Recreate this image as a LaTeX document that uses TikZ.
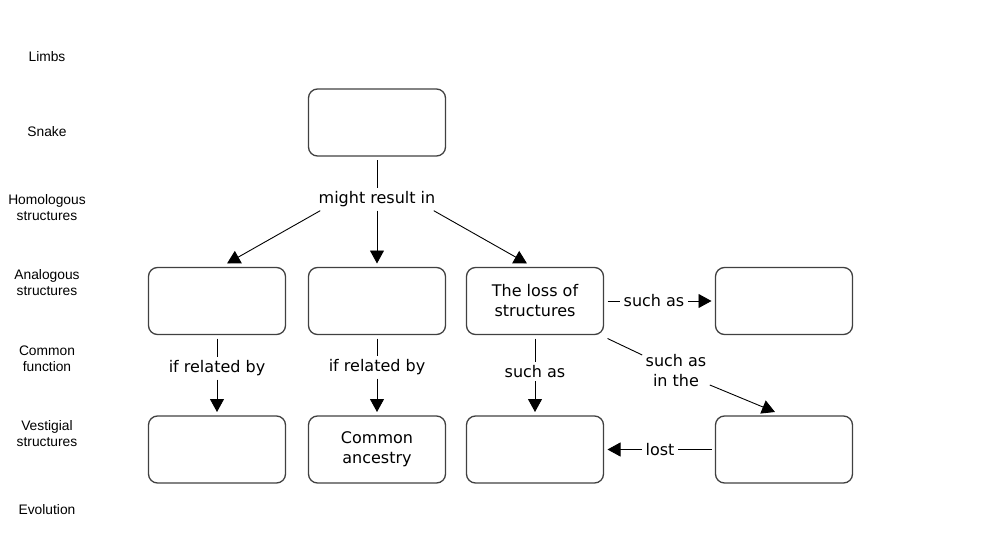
\documentclass[tikz,border=0pt]{standalone}
\usepackage{fontspec}
\setmainfont{DejaVu Sans}
\newfontfamily\sidefont{Liberation Sans}
\usetikzlibrary{arrows.meta}

\begin{document}
\begin{tikzpicture}[x=1pt, y=-1pt,
    box/.style={draw=black!75, line width=1.3pt, rounded corners=9pt, minimum width=137pt, minimum height=67pt, align=center, outer sep=4pt, font=\fontsize{16}{20}\selectfont},
    link/.style={inner sep=3pt, align=center, font=\fontsize{16}{20}\selectfont},
    side/.style={align=center, font=\sidefont\fontsize{13.8}{16}\selectfont},
    tip/.style={-{Triangle[length=13pt,width=14pt]}},
    every path/.style={line width=0.9pt}]
    \useasboundingbox (0,0) rectangle (983,533);

    \node[side] (limbs) at (47,57) {Limbs};
    \node[side] (snake) at (47,132) {Snake};
    \node[side] (homol) at (47,208) {Homologous\\structures};
    \node[side] (analog) at (47,283) {Analogous\\structures};
    \node[side] (func) at (47,359) {Common\\function};
    \node[side] (vest) at (47,434) {Vestigial\\structures};
    \node[side] (evol) at (47,510) {Evolution};

    \node[box] (top) at (377,122.5) {};
    \node[box] (a1) at (217,301) {};
    \node[box] (a2) at (377,301) {};
    \node[box] (a3) at (535,301) {The loss of\\structures};
    \node[box] (a4) at (784,301) {};
    \node[box] (b1) at (217,449.5) {};
    \node[box] (b2) at (377,449.5) {Common\\ancestry};
    \node[box] (b3) at (535,449.5) {};
    \node[box] (b4) at (784,449.5) {};

    \node[link] (mri) at (377,199.5) {might result in};
    \node[link] (rel1) at (217,368.5) {if related by};
    \node[link] (rel2) at (377,367.5) {if related by};
    \node[link] (such1) at (535,371.5) {such as};
    \node[link] (such2) at (654,301) {such as};
    \node[link] (such3) at (676,371) {such as\\in the};
    \node[link] (lost) at (660,449.5) {lost};

    \draw (top) -- (mri);
    \draw[tip] ([xshift=5pt]mri.south west) -- ([xshift=10pt]a1.north);
    \draw[tip] (mri) -- (a2);
    \draw[tip] ([xshift=-5pt]mri.south east) -- ([xshift=-8pt]a3.north);

    \draw (a1) -- (rel1);
    \draw[tip] (rel1) -- (b1);
    \draw (a2) -- (rel2);
    \draw[tip] (rel2) -- (b2);
    \draw (a3) -- (such1);
    \draw[tip] (such1) -- (b3);

    \draw (a3) -- (such2);
    \draw[tip] (such2) -- (a4);
    \draw (a3.south east) -- (such3);
    \draw[tip] (such3) -- ([xshift=-9pt]b4.north);
    \draw (b4) -- (lost);
    \draw[tip] (lost) -- (b3);
\end{tikzpicture}
\end{document}
